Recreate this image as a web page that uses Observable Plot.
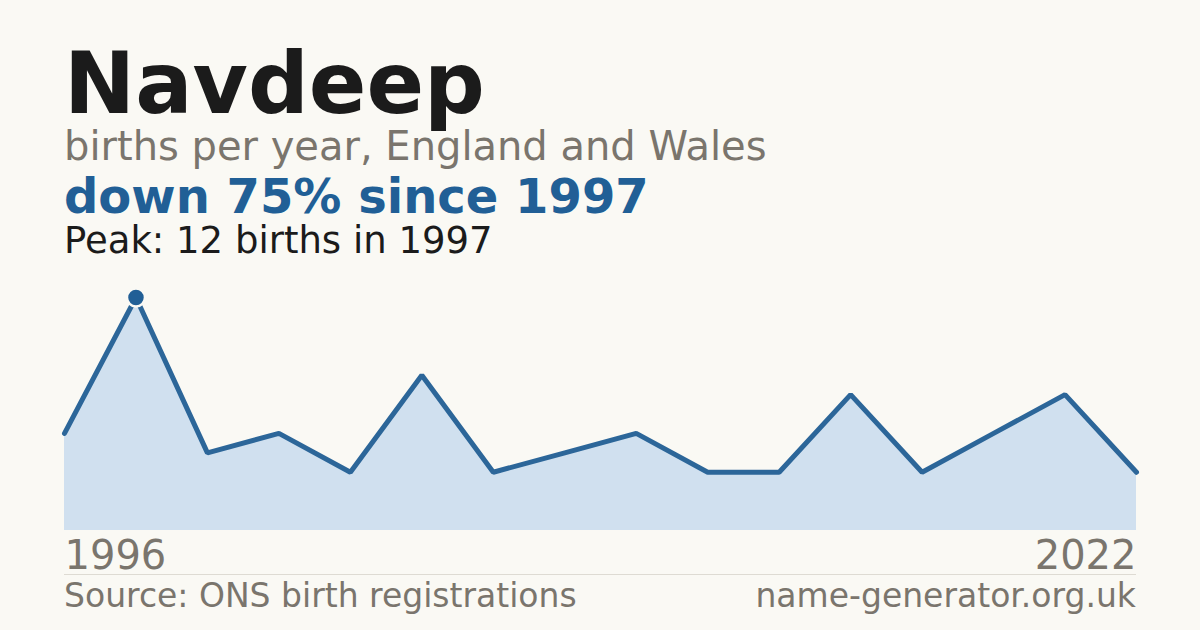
<!DOCTYPE html>
<html>
<head>
<meta charset="utf-8">
<script src="https://cdn.jsdelivr.net/npm/d3@7"></script>
<script src="https://cdn.jsdelivr.net/npm/@observablehq/plot@0.6"></script>
<style>
  html, body { margin: 0; padding: 0; background: #faf9f4; }
  body { width: 1200px; height: 630px; position: relative; overflow: hidden; font-family: "DejaVu Sans", sans-serif; }
  .t { position: absolute; left: 64px; line-height: 0.8; white-space: nowrap; }
  #title { top: 50px; font-size: 85px; font-weight: bold; color: #1b1b1b; }
  #sub { top: 130px; font-size: 40px; color: #7a756d; }
  #change { top: 177px; font-size: 48px; font-weight: bold; color: #215f96; }
  #peak { top: 226px; font-size: 37px; color: #1b1b1b; }
  #chart { position: absolute; left: 0; top: 260px; }
  #sep { position: absolute; left: 64px; width: 1072px; top: 574px; height: 1px; background: #dedbd3; }
  #src { top: 583px; font-size: 33px; color: #7a756d; }
  #site { top: 583px; left: auto; right: 64px; font-size: 33px; color: #7a756d; }
</style>
</head>
<body>
<div class="t" id="title">Navdeep</div>
<div class="t" id="sub">births per year, England and Wales</div>
<div class="t" id="change">down 75% since 1997</div>
<div class="t" id="peak">Peak: 12 births in 1997</div>
<div id="chart"></div>
<div id="sep"></div>
<div class="t" id="src">Source: ONS birth registrations</div>
<div class="t" id="site">name-generator.org.uk</div>
<script>
const years = [1996, 1997, 1998, 1999, 2000, 2001, 2002, 2004, 2006, 2008, 2009, 2011, 2013, 2016, 2019, 2022];
const births = [5, 12, 4, 5, 3, 8, 3, 4, 5, 3, 3, 7, 3, 5, 7, 3];
const peakYear = 1997;
const firstLabel = "1996";
const lastLabel = "2022";

const data = years.map((y, i) => ({i, year: y, births: births[i]}));
const peak = data.filter(d => d.year === peakYear);
const last = data.length - 1;

const chart = Plot.plot({
  width: 1200,
  height: 330,
  marginLeft: 64,
  marginRight: 64,
  marginTop: 37,
  marginBottom: 60,
  x: {domain: [0, last], axis: null},
  y: {domain: [0, 12], axis: null},
  style: {background: "transparent", fontFamily: "DejaVu Sans, sans-serif"},
  marks: [
    Plot.areaY(data, {x: "i", y: "births", fill: "#d0e0ef"}),
    Plot.line(data, {x: "i", y: "births", stroke: "#2c6699", strokeWidth: 5, strokeLinejoin: "miter"}),
    Plot.dot(peak, {x: "i", y: "births", r: 9, fill: "#215f96", stroke: "#faf9f4", strokeWidth: 2.5}),
    Plot.text([{i: 0, label: firstLabel}], {x: "i", y: () => 0, text: "label", textAnchor: "start", lineAnchor: "bottom", dy: 38, fontSize: 40, fill: "#7a756d"}),
    Plot.text([{i: last, label: lastLabel}], {x: "i", y: () => 0, text: "label", textAnchor: "end", lineAnchor: "bottom", dy: 38, fontSize: 40, fill: "#7a756d"})
  ]
});
document.getElementById("chart").append(chart);
</script>
</body>
</html>
